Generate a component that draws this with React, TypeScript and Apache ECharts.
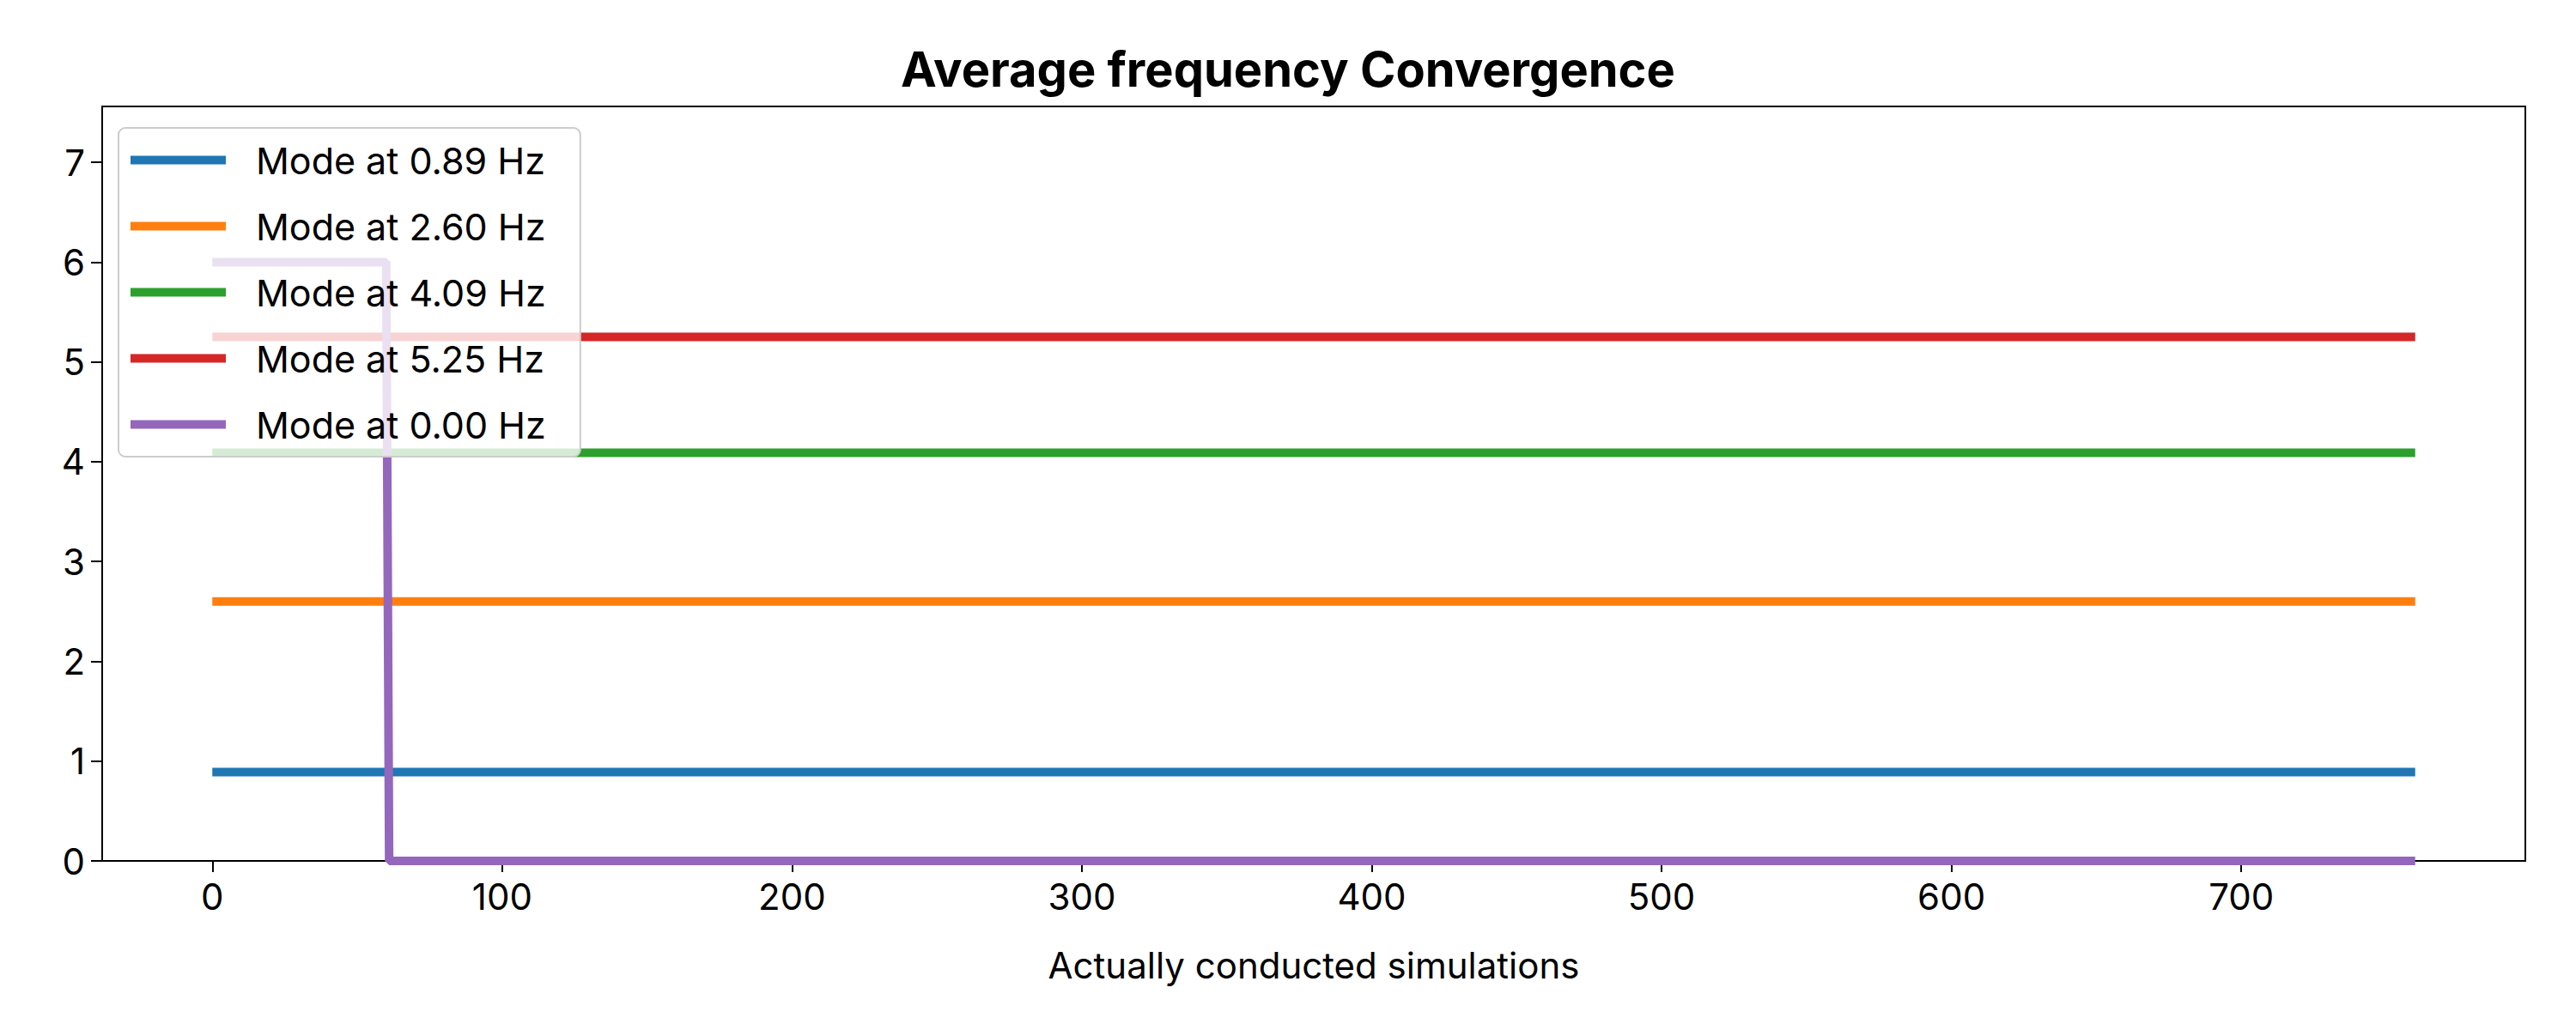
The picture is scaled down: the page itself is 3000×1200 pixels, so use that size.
import React, { useEffect, useRef } from "react";
import * as echarts from "echarts";

const seriesNames = ["Mode at 0.89 Hz", "Mode at 2.60 Hz", "Mode at 4.09 Hz", "Mode at 5.25 Hz", "Mode at 0.00 Hz"];
const colors = ["#1f77b4", "#ff7f0e", "#2ca02c", "#d62728", "#9467bd"];
const mode089: [number, number][] = [[0, 0.89], [760, 0.89]];
const mode260: [number, number][] = [[0, 2.6], [760, 2.6]];
const mode409: [number, number][] = [[0, 4.09], [760, 4.09]];
const mode525: [number, number][] = [[0, 5.25], [760, 5.25]];
const mode000: [number, number][] = [[0, 6.0], [60, 6.0], [61, 0], [760, 0]];
const xTicks = [0, 100, 200, 300, 400, 500, 600, 700];
const yTicks = [0, 1, 2, 3, 4, 5, 6, 7];

const FONT = "Inter";

export default function App() {
  const ref = useRef<HTMLDivElement>(null);
  useEffect(() => {
    document.body.style.margin = "0";
    const chart = echarts.init(ref.current!, null, { renderer: "svg" });
    const data = [mode089, mode260, mode409, mode525, mode000];
    chart.setOption({
      animation: false,
      backgroundColor: "#fff",
      title: {
        text: "Average frequency Convergence",
        left: "center",
        top: 48,
        textStyle: { fontFamily: FONT, fontWeight: "bold", fontSize: 56, color: "#000" },
      },
      grid: { left: 119, right: 59, top: 124, bottom: 197, show: true, borderColor: "#000", borderWidth: 2, backgroundColor: "transparent" },
      legend: {
        orient: "vertical",
        left: 138,
        top: 149,
        padding: [16, 40, 16, 14],
        itemGap: 34,
        itemWidth: 111,
        itemHeight: 10,
        icon: "rect",
        backgroundColor: "rgba(255,255,255,0.8)",
        borderColor: "#ccc",
        borderWidth: 2,
        borderRadius: 8,
        textStyle: { fontFamily: FONT, fontSize: 43, color: "#000", padding: [0, 0, 0, 30] },
        data: seriesNames,
      },
      xAxis: {
        type: "value",
        min: -38,
        max: 798,
        name: "Actually conducted simulations",
        nameLocation: "middle",
        nameGap: 100,
        nameTextStyle: { fontFamily: FONT, fontSize: 42, color: "#000" },
        splitLine: { show: false },
        axisLine: { show: false, onZero: false },
        axisTick: { show: true, length: 13, lineStyle: { color: "#000", width: 2 }, customValues: xTicks },
        axisLabel: { fontFamily: FONT, fontSize: 42, color: "#000", margin: 20, customValues: xTicks },
      },
      yAxis: {
        type: "value",
        min: 0,
        max: 7.56,
        splitLine: { show: false },
        axisLine: { show: false, onZero: false },
        axisTick: { show: true, length: 13, lineStyle: { color: "#000", width: 2 }, customValues: yTicks },
        axisLabel: { fontFamily: FONT, fontSize: 42, color: "#000", margin: 20, customValues: yTicks },
      },
      series: seriesNames.map((n, i) => ({
        name: n,
        type: "line",
        data: data[i],
        showSymbol: false,
        symbol: "none",
        color: colors[i],
        lineStyle: { width: 10, color: colors[i] },
      })),
    });
    return () => chart.dispose();
  }, []);
  return <div ref={ref} style={{ width: 3000, height: 1200 }} />;
}
